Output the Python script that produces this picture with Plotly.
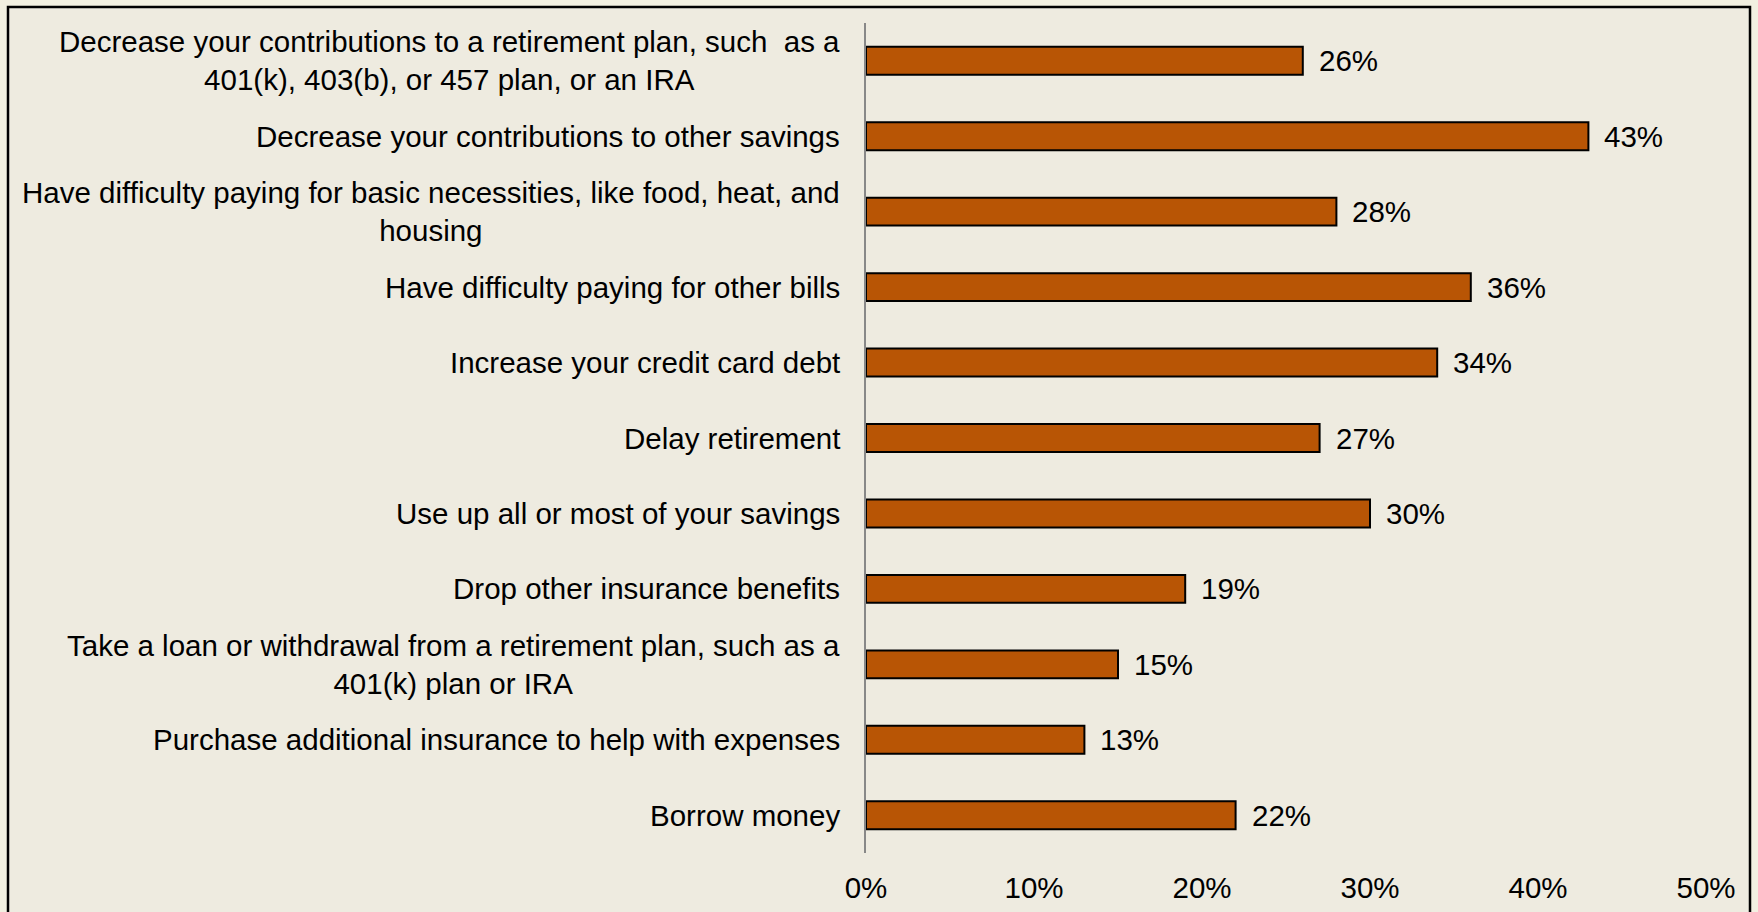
import plotly.graph_objects as go

categories = [
    "Decrease your contributions to a retirement plan, such  as a<br>401(k), 403(b), or 457 plan, or an IRA",
    "Decrease your contributions to other savings",
    "Have difficulty paying for basic necessities, like food, heat, and<br>housing",
    "Have difficulty paying for other bills",
    "Increase your credit card debt",
    "Delay retirement",
    "Use up all or most of your savings",
    "Drop other insurance benefits",
    "Take a loan or withdrawal from a retirement plan, such as a<br>401(k) plan or IRA",
    "Purchase additional insurance to help with expenses",
    "Borrow money",
]
values = [26, 43, 28, 36, 34, 27, 30, 19, 15, 13, 22]
tick_vals = [0, 0.1, 0.2, 0.3, 0.4, 0.5]

FONT = "Liberation Sans, Arial, sans-serif"
FS = 29.5

W, H = 1758, 912
ML, MR, MT, MB = 866, 52, 23, 59
PW, PH = W - ML - MR, H - MT - MB

fig = go.Figure()
fig.add_trace(go.Bar(
    x=[v / 100 for v in values],
    y=categories,
    orientation="h",
    marker=dict(color="#B85505", line=dict(color="#000000", width=2)),
    hoverinfo="skip",
))

annotations = []
for c, v in zip(categories, values):
    annotations.append(dict(
        x=v / 100, y=c, xref="x", yref="y", text=f"{v}%", showarrow=False,
        xanchor="left", yanchor="middle", xshift=14,
        font=dict(family=FONT, size=FS, color="#000000"),
    ))
    annotations.append(dict(
        x=0, y=c, xref="paper", yref="y", text=c, showarrow=False,
        xanchor="right", yanchor="middle", xshift=-24, align="center",
        font=dict(family=FONT, size=FS, color="#000000"),
    ))

def px_x(p):
    return (p - ML) / PW

def px_y(p):
    return (H - MB - p) / PH

fig.update_layout(
    width=W, height=H,
    margin=dict(l=ML, r=MR, t=MT, b=MB, autoexpand=False),
    paper_bgcolor="#F2F0E1",
    plot_bgcolor="rgba(0,0,0,0)",
    showlegend=False,
    bargap=0.63,
    font=dict(family=FONT, size=FS, color="#000000"),
    annotations=annotations,
    shapes=[dict(
        type="rect", xref="paper", yref="paper",
        x0=px_x(8), x1=px_x(1750), y0=px_y(930), y1=px_y(7),
        fillcolor="#EEEBE0", line=dict(color="#000000", width=2.5),
        layer="below",
    )],
    xaxis=dict(
        range=[0, 0.5], tickvals=tick_vals, tickformat=".0%",
        showgrid=False, zeroline=False, showline=False,
        ticks="outside", ticklen=9, tickcolor="rgba(0,0,0,0)",
        tickfont=dict(family=FONT, size=FS, color="#000000"),
        fixedrange=True, automargin=False,
    ),
    yaxis=dict(
        autorange="reversed", showticklabels=False,
        showgrid=False, zeroline=False,
        showline=True, linecolor="#888888", linewidth=1.5,
        ticks="", fixedrange=True, automargin=False,
    ),
)

fig.write_html("out.html")
